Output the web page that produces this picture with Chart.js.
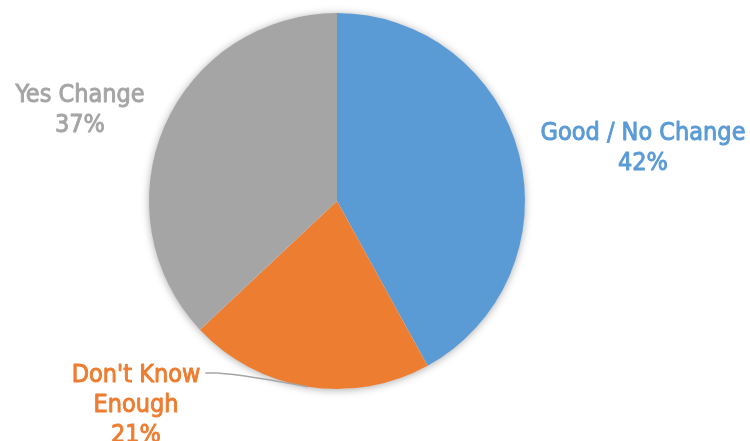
<!DOCTYPE html>
<html>
<head>
<meta charset="utf-8">
<script src="https://cdn.jsdelivr.net/npm/chart.js@4"></script>
<style>
  html, body { margin: 0; padding: 0; background: #ffffff; }
  #wrap { width: 750px; height: 441px; position: relative; }
</style>
</head>
<body>
<div id="wrap"><canvas id="pie" width="750" height="441"></canvas></div>
<script>
// Survey answers and their shares (percent)
const categories = ['Good / No Change', "Don't Know Enough", 'Yes Change'];
const shares = [42, 21, 37];
const sliceColors = ['#5B9BD5', '#ED7D31', '#A5A5A5'];
// Label text lines for each slice (name lines, then percent)
const labelLines = [
  ['Good / No Change'],
  ["Don't Know", 'Enough'],
  ['Yes Change']
];

const FONT = '25px "DejaVu Sans Condensed", "DejaVu Sans", sans-serif';

// Soft glow under the pie
const pieShadow = {
  id: 'pieShadow',
  beforeDatasetsDraw(chart) {
    const arc = chart.getDatasetMeta(0).data[0];
    if (!arc) return;
    const ctx = chart.ctx;
    ctx.save();
    ctx.shadowColor = 'rgba(0,0,0,0.35)';
    ctx.shadowBlur = 9;
    ctx.shadowOffsetX = 0;
    ctx.shadowOffsetY = 1;
    ctx.fillStyle = '#ffffff';
    ctx.beginPath();
    ctx.arc(arc.x, arc.y, arc.outerRadius - 0.5, 0, Math.PI * 2);
    ctx.fill();
    ctx.restore();
  }
};

// Category labels with percentages, plus a leader line for the small slice
const sliceLabels = {
  id: 'sliceLabels',
  afterDatasetsDraw(chart, args, opts) {
    const ctx = chart.ctx;
    const meta = chart.getDatasetMeta(0);
    ctx.save();
    ctx.font = FONT;
    ctx.textAlign = 'center';
    ctx.textBaseline = 'alphabetic';
    ctx.lineJoin = 'round';
    opts.places.forEach((p, i) => {
      const lines = labelLines[i].concat([shares[i] + '%']);
      ctx.fillStyle = sliceColors[i];
      ctx.strokeStyle = sliceColors[i];
      ctx.lineWidth = 0.9;
      lines.forEach((t, k) => {
        ctx.fillText(t, p.x, p.y + k * 30);
        ctx.strokeText(t, p.x, p.y + k * 30);
      });
      if (p.leader) {
        const arc = meta.data[i];
        const mid = (arc.startAngle + arc.endAngle) / 2;
        const ex = arc.x + Math.cos(mid) * arc.outerRadius;
        const ey = arc.y + Math.sin(mid) * arc.outerRadius;
        const w = ctx.measureText(lines[0]).width;
        const sx = p.x + w / 2 + 5;
        const sy = p.y - 9;
        ctx.strokeStyle = '#A6A6A6';
        ctx.lineWidth = 1.5;
        ctx.beginPath();
        ctx.moveTo(sx, sy);
        ctx.lineTo(sx + 12, sy);
        ctx.quadraticCurveTo(sx + 40, sy + 2, ex, ey);
        ctx.stroke();
      }
    });
    ctx.restore();
  }
};

new Chart(document.getElementById('pie'), {
  type: 'pie',
  data: {
    labels: categories,
    datasets: [{
      data: shares,
      backgroundColor: sliceColors,
      borderWidth: 0,
      hoverOffset: 0
    }]
  },
  options: {
    responsive: false,
    animation: false,
    layout: { padding: { left: 149, right: 225, top: 13, bottom: 52 } },
    plugins: {
      legend: { display: false },
      tooltip: { enabled: false },
      sliceLabels: {
        places: [
          { x: 643, y: 140 },
          { x: 136, y: 382, leader: true },
          { x: 80, y: 102 }
        ]
      }
    }
  },
  plugins: [pieShadow, sliceLabels]
});
</script>
</body>
</html>
